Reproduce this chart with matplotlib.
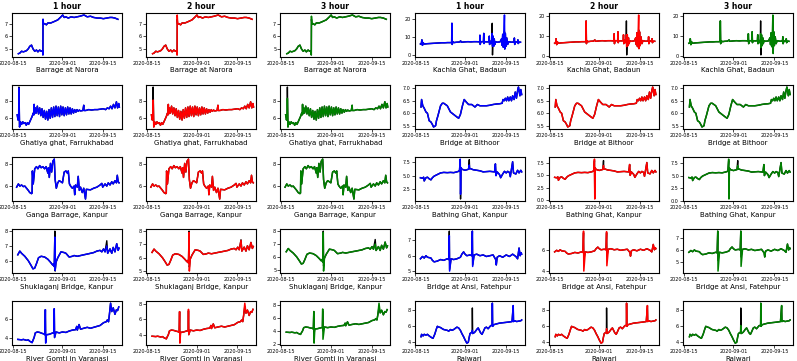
import matplotlib
matplotlib.use("Agg")
import matplotlib.dates as mdates
import matplotlib.pyplot as plt
import pandas as pd

START = pd.Timestamp("2020-08-15")
HORIZONS = ["1 hour", "2 hour", "3 hour"]
COLORS = ["blue", "red", "green"]

# --- observed water level (days after 2020-08-15) and per-horizon prediction differences
narora_day = [1.9, 2.4, 3.0, 3.6, 4.2, 4.7, 5.3, 5.8, 6.4, 6.9, 7.5, 8.1, 8.6, 9.2, 9.7, 10.2, 10.3, 10.35,
              10.5, 10.9, 11.5, 12.0, 13.0, 14.0, 15.4, 16.5, 17.1, 17.6, 18.2, 19.0, 20.0, 21.0, 22.0,
              23.0, 24.4, 25.5, 26.6, 27.7, 28.9, 30.0, 31.0, 32.2, 33.3, 34.0, 35.0, 36.0]
narora_obs = [4.6, 4.65, 4.8, 4.75, 4.8, 4.85, 5.0, 5.2, 5.3, 5.0, 4.8, 4.9, 4.75, 4.9, 4.8, 4.85, 4.5, 7.4,
              7.0, 7.05, 6.95, 7.1, 7.1, 7.2, 7.35, 7.6, 7.75, 7.55, 7.6, 7.5, 7.6, 7.55, 7.6,
              7.65, 7.75, 7.6, 7.65, 7.55, 7.5, 7.5, 7.45, 7.5, 7.55, 7.55, 7.5, 7.4]
narora_fix = [{}, {10.35: 7.75}, {10.35: 7.65}]

kachla_day = [1.7, 2.0, 2.2, 2.4, 2.6, 3.0, 4.0, 5.0, 6.0, 7.0, 8.0, 9.0, 10.0, 11.0, 12.0, 12.4, 12.5, 12.6,
              12.8, 13.2, 14.0, 15.0, 15.5, 15.7, 17.0, 18.0, 19.0, 20.0, 21.0, 22.0, 22.1, 22.2, 22.4,
              23.3, 23.4, 23.5, 23.7, 24.5, 25.2, 25.3, 25.4, 25.6, 25.9, 26.2, 26.3, 26.4, 26.6, 26.8,
              27.0, 27.2, 27.5, 28.0, 29.0, 29.5, 29.7, 29.9, 30.1, 30.3, 30.5, 30.6, 30.8, 31.0, 31.3,
              31.6, 32.0, 33.0, 33.8, 33.9, 34.0, 34.3, 35.0, 35.1, 35.2, 35.6, 36.0]
kachla_obs = [6.2, 6.4, 8.5, 5.5, 7.0, 6.2, 6.4, 6.5, 6.6, 6.7, 6.8, 6.9, 6.9, 7.0, 7.0, 7.1, 17.5, 6.0,
              7.5, 7.0, 7.2, 7.3, 7.9, 7.2, 7.4, 7.5, 7.4, 7.5, 7.5, 7.4, 11.0, 6.0, 7.5,
              7.5, 12.0, 6.5, 7.5, 7.4, 7.5, 10.5, 6.0, 7.8, 6.5, 8.0, 17.5, 0.3, 10.5, 5.0,
              9.0, 6.0, 7.5, 7.2, 7.4, 9.0, 5.5, 11.5, 4.5, 10.0, 13.0, 3.5, 12.0, 5.0, 9.5,
              6.0, 7.5, 7.2, 7.4, 9.5, 6.0, 7.3, 7.4, 8.5, 6.5, 7.3, 7.2]
kachla_fix = [{26.3: 12.0, 26.4: 5.0, 30.5: 22.0},
              {26.3: 10.5, 26.4: 4.5, 30.5: 20.5},
              {26.3: 11.0, 26.4: 4.0, 30.5: 20.5, 30.6: 1.0}]

ghatiya_day = [1.5, 1.8, 2.0, 2.1, 2.3, 2.6, 3.0, 3.4, 3.8, 4.2, 4.6, 5.0, 5.4, 5.8, 6.2, 6.6, 7.0, 7.2, 7.3,
               7.4, 7.7, 8.0, 8.4, 8.8, 9.2, 9.6, 10.0, 10.4, 10.8, 11.2, 11.6, 12.0, 12.4, 12.8, 13.2,
               13.6, 14.0, 14.4, 14.8, 15.2, 15.6, 16.0, 16.4, 16.8, 17.2, 17.6, 18.0, 18.4, 18.8,
               19.2, 19.6, 20.0, 20.4, 20.8, 21.2, 21.6, 22.0, 22.4, 22.8, 23.2, 24.0, 24.3, 24.4,
               25.0, 26.0, 27.0, 28.0, 29.0, 30.0, 31.0, 31.8, 32.4, 33.0, 33.5, 34.0, 34.5, 35.0,
               35.5, 35.9, 36.3, 36.5]
ghatiya_obs = [6.4, 5.8, 6.2, 9.6, 5.0, 5.6, 5.3, 5.6, 5.4, 5.5, 5.2, 5.5, 5.3, 5.6, 5.9, 6.2, 6.6, 6.4, 7.6,
               6.5, 7.2, 6.6, 7.4, 6.5, 7.2, 6.3, 7.1, 6.1, 6.9, 5.9, 6.8, 5.8, 7.0, 6.0, 7.2,
               6.1, 7.3, 6.2, 7.4, 6.3, 7.3, 6.2, 7.4, 6.4, 7.3, 6.3, 7.2, 6.4, 7.3,
               6.5, 7.2, 6.5, 7.1, 6.6, 7.0, 6.7, 7.0, 6.8, 6.95, 6.85, 6.9, 7.5, 6.9,
               6.9, 7.0, 6.95, 7.0, 7.0, 7.05, 7.1, 7.0, 7.2, 7.1, 7.4, 7.1, 7.6, 7.2,
               7.9, 7.2, 7.7, 7.3]
ghatiya_fix = [{2.1: 9.5}, {2.1: 8.1}, {2.1: 8.3}]

bithoor_day = [1.9, 2.1, 2.5, 3.0, 3.6, 4.1, 4.7, 5.3, 5.8, 6.2, 6.9, 7.2, 7.7, 8.6, 9.2, 9.7, 10.9, 12.0,
               13.1, 14.2, 14.8, 15.4, 16.1, 16.7, 17.4, 18.2, 19.3, 20.4, 21.2, 22.1, 23.0, 24.3,
               25.5, 26.6, 27.7, 28.8, 29.7, 30.0, 30.4, 30.8, 31.2, 31.6, 32.0, 32.5, 32.9, 33.3,
               33.8, 34.2, 34.6, 35.0, 35.3, 35.8, 36.1, 36.4]
bithoor_obs = [6.25, 6.55, 6.3, 6.2, 6.05, 6.0, 5.7, 5.65, 5.55, 5.45, 5.5, 5.7, 5.9, 6.3, 6.4, 6.4, 6.3, 6.05,
               5.95, 5.85, 5.8, 5.95, 6.3, 6.55, 6.45, 6.35, 6.35, 6.25, 6.35, 6.3, 6.3, 6.3,
               6.32, 6.35, 6.37, 6.38, 6.4, 6.55, 6.5, 6.6, 6.5, 6.65, 6.5, 6.65, 6.5, 6.7,
               6.55, 6.85, 6.6, 6.9, 7.05, 6.7, 6.95, 6.75]
bithoor_fix = [{}, {}, {}]

ganga_day = [1.3, 1.9, 2.4, 3.0, 3.6, 4.1, 4.7, 5.3, 5.8, 6.4, 6.6, 6.7, 7.0, 7.5, 8.1, 8.6, 9.2, 9.7, 10.3,
             10.9, 11.4, 12.0, 12.2, 12.5, 12.9, 13.3, 13.7, 14.2, 14.5, 14.9, 15.4, 15.9, 16.5, 17.0,
             17.6, 18.2, 18.7, 19.0, 19.4, 19.8, 20.4, 21.0, 21.2, 21.5, 22.1, 22.4, 22.8, 23.2,
             23.8, 24.3, 24.9, 25.2, 26.6, 27.7, 28.8, 29.9, 30.5, 30.8, 31.6, 32.2, 32.7, 33.3,
             33.9, 34.4, 35.0, 35.5, 35.8, 36.1, 36.4]
ganga_obs = [5.9, 6.2, 6.0, 6.1, 5.95, 6.0, 5.8, 5.6, 5.4, 5.3, 5.35, 7.4, 6.2, 7.6, 7.8, 7.6, 7.9, 7.7, 7.8,
             7.6, 7.8, 7.2, 7.7, 6.8, 8.1, 7.3, 8.3, 8.5, 6.6, 5.8, 6.3, 6.5, 6.4, 6.3,
             7.3, 7.4, 7.2, 7.4, 6.2, 6.0, 5.8, 6.0, 5.2, 6.1, 5.9, 6.9, 5.6, 5.9,
             5.4, 5.8, 4.8, 5.7, 5.65, 5.8, 5.9, 6.1, 6.25, 5.9, 6.2, 6.0, 6.3, 6.1,
             6.4, 6.2, 6.5, 6.3, 7.0, 6.4, 6.3]
ganga_fix = [{}, {}, {}]

bathing_day = [1.7, 2.4, 2.8, 3.0, 3.6, 4.1, 4.7, 5.3, 5.8, 6.4, 7.5, 8.6, 9.7, 10.9, 12.0, 13.1, 14.2, 14.8,
               15.1, 15.35, 15.45, 15.6, 15.9, 17.0, 18.2, 18.45, 18.55, 18.9, 19.8, 21.0, 22.1, 23.2,
               25.5, 27.1, 27.4, 27.6, 28.0, 28.8, 29.2, 29.9, 30.5, 31.1, 31.6, 32.2, 32.5, 33.3,
               33.6, 34.4, 35.0, 35.5, 36.1, 36.4]
bathing_obs = [4.6, 4.5, 4.7, 4.0, 4.6, 4.7, 4.4, 4.2, 4.6, 4.9, 5.2, 5.5, 5.6, 5.55, 5.6, 5.55, 5.7, 5.8,
               6.0, 8.0, 0.6, 6.5, 6.2, 6.0, 6.2, 8.0, 6.3, 6.3, 6.1, 6.0, 5.9, 5.7,
               5.8, 5.7, 7.2, 5.0, 5.7, 5.2, 4.6, 5.3, 5.8, 5.5, 5.8, 5.6, 4.8, 7.6,
               5.5, 5.3, 6.0, 5.5, 6.0, 5.7]
bathing_fix = [{15.35: 8.1, 15.45: 1.5, 18.45: 7.0},
               {15.35: 8.3, 15.45: 0.2, 18.45: 7.0},
               {15.35: 8.3, 15.45: 0.3, 18.45: 7.0}]

shuklaganj_day = [1.7, 2.4, 3.0, 4.1, 5.3, 6.2, 6.9, 7.5, 8.1, 8.8, 9.7, 10.9, 12.0, 12.9, 13.7, 14.0, 14.2,
                  14.4, 14.5, 14.8, 15.4, 16.5, 17.6, 18.2, 19.3, 20.4, 21.0, 22.1, 23.2, 24.3, 25.5,
                  26.6, 27.7, 28.8, 29.9, 30.5, 31.1, 31.6, 32.2, 32.5, 33.3, 33.9, 34.4, 35.0, 35.6,
                  36.1, 36.4]
shuklaganj_obs = [6.4, 6.65, 6.5, 6.3, 6.0, 5.7, 5.45, 5.5, 5.8, 6.2, 6.3, 6.25, 6.1, 5.9, 5.7, 5.8, 5.6,
                  8.0, 5.3, 5.9, 6.2, 6.6, 6.55, 6.5, 6.25, 6.3, 6.35, 6.3, 6.35, 6.4, 6.45,
                  6.5, 6.55, 6.65, 6.7, 6.6, 6.8, 6.6, 7.35, 6.5, 6.8, 6.5, 6.9, 6.6, 7.15,
                  6.7, 6.85]
shuklaganj_fix = [{14.4: 7.6, 14.5: 5.35, 32.2: 7.0},
                  {14.4: 7.9, 14.5: 5.0, 32.2: 7.3},
                  {14.4: 7.9, 14.5: 4.9, 32.2: 7.0}]

ansi_day = [1.7, 2.4, 3.0, 3.6, 4.1, 5.3, 5.8, 6.4, 7.5, 8.6, 9.7, 10.9, 11.4, 11.6, 11.7, 12.2, 13.1, 14.2,
            15.4, 15.9, 16.5, 17.0, 17.6, 18.7, 19.3, 19.5, 19.6, 20.1, 21.0, 22.1, 23.2, 24.3, 25.5,
            26.6, 27.5, 27.7, 28.0, 28.8, 29.9, 31.1, 32.2, 33.3, 34.4, 35.0, 35.5, 35.9, 36.2, 36.4]
ansi_obs = [5.8, 5.95, 5.85, 6.0, 5.9, 5.85, 5.7, 5.6, 5.65, 5.75, 5.7, 5.8, 5.75, 7.6, 5.1, 5.8, 5.75, 5.8,
            5.9, 6.1, 6.25, 6.1, 6.0, 6.05, 6.0, 7.6, 5.4, 6.05, 6.1, 6.0, 6.05, 5.95, 6.0,
            6.05, 5.75, 5.4, 5.9, 6.0, 5.9, 6.05, 5.95, 6.1, 5.95, 5.8, 6.5, 6.0, 6.2, 6.1]
ansi_fix = [{11.6: 7.3, 11.7: 5.0, 19.6: 5.3},
            {11.6: 7.75, 11.7: 4.0, 19.5: 7.7, 19.6: 4.5},
            {11.6: 7.6, 11.7: 4.2, 19.6: 4.6}]

gomti_day = [1.7, 3.0, 3.6, 4.7, 5.3, 5.8, 6.4, 6.6, 6.9, 7.3, 7.7, 8.4, 9.2, 10.0, 10.6, 11.0, 11.15, 11.25,
             11.5, 12.5, 13.7, 14.1, 14.2, 14.3, 14.8, 15.9, 17.0, 18.2, 19.3, 20.4, 21.5, 21.9, 22.1,
             22.7, 23.2, 24.3, 25.5, 26.6, 27.7, 28.8, 29.9, 31.1, 32.0, 32.4, 32.8, 33.1, 33.5, 33.9,
             34.4, 35.0, 35.5, 35.9, 36.3]
gomti_obs = [3.8, 3.75, 3.8, 3.7, 3.75, 3.6, 3.5, 3.45, 3.7, 4.0, 4.5, 4.6, 4.55, 4.45, 4.4, 4.3, 7.0, 3.6,
             4.3, 4.35, 4.5, 4.5, 7.1, 4.0, 4.6, 4.5, 4.6, 4.55, 4.7, 4.8, 4.85, 5.2, 4.8,
             5.4, 4.9, 5.0, 5.1, 5.0, 5.1, 5.2, 5.3, 5.6, 5.7, 5.9, 5.7, 6.5, 7.7, 6.8,
             7.2, 6.5, 7.0, 6.9, 7.3]
gomti_fix = [{11.25: 3.4},
             {11.25: 2.9, 14.2: 7.3, 33.5: 8.1},
             {11.25: 2.1, 14.2: 7.4, 14.3: 2.7, 33.5: 8.3}]

rajwari_day = [1.9, 2.1, 2.6, 3.0, 3.6, 4.1, 4.7, 5.5, 6.0, 6.6, 7.2, 7.5, 8.1, 8.6, 9.2, 9.7, 10.9, 11.4,
               12.0, 12.5, 13.1, 14.2, 14.8, 15.4, 15.9, 16.5, 17.0, 17.6, 18.1, 18.4, 18.7, 19.1,
               19.45, 19.5, 19.6, 20.1, 20.4, 21.2, 21.5, 22.3, 22.8, 23.2, 23.8, 24.3, 24.9, 25.8,
               26.3, 26.35, 26.45, 26.8, 27.7, 28.8, 29.9, 31.1, 32.2, 33.1, 33.5, 33.6, 34.0, 34.7,
               35.3, 36.1, 36.4]
rajwari_obs = [4.6, 4.9, 4.7, 4.9, 4.8, 4.9, 4.7, 4.5, 4.4, 4.9, 5.6, 5.9, 5.8, 5.75, 5.6, 5.5, 5.4, 5.3,
               5.5, 5.4, 5.5, 5.8, 5.7, 5.4, 5.0, 4.6, 4.2, 3.8, 3.9, 4.5, 5.0, 5.1,
               5.2, 8.2, 5.0, 5.1, 5.2, 5.6, 5.7, 5.1, 4.9, 5.2, 5.7, 5.8, 5.6, 6.0,
               6.0, 8.8, 5.9, 6.1, 6.2, 6.3, 6.35, 6.4, 6.45, 6.5, 8.5, 6.5, 6.6, 6.5,
               6.55, 6.6, 6.7]
rajwari_fix = [{19.5: 5.4}, {19.5: 5.6}, {19.5: 6.0}]

# rows of the grid: (left station, right station)
ROWS = [
    (("Barrage at Narora", narora_day, narora_obs, narora_fix),
     ("Kachla Ghat, Badaun", kachla_day, kachla_obs, kachla_fix)),
    (("Ghatiya ghat, Farrukhabad", ghatiya_day, ghatiya_obs, ghatiya_fix),
     ("Bridge at Bithoor", bithoor_day, bithoor_obs, bithoor_fix)),
    (("Ganga Barrage, Kanpur", ganga_day, ganga_obs, ganga_fix),
     ("Bathing Ghat, Kanpur", bathing_day, bathing_obs, bathing_fix)),
    (("Shuklaganj Bridge, Kanpur", shuklaganj_day, shuklaganj_obs, shuklaganj_fix),
     ("Bridge at Ansi, Fatehpur", ansi_day, ansi_obs, ansi_fix)),
    (("River Gomti in Varanasi", gomti_day, gomti_obs, gomti_fix),
     ("Rajwari", rajwari_day, rajwari_obs, rajwari_fix)),
]


def predicted(days, obs, fix):
    return [fix.get(d, v) for d, v in zip(days, obs)]


def main() -> None:
    fig, axes = plt.subplots(5, 6, figsize=(7.97, 3.61), dpi=100)
    fig.subplots_adjust(left=0.015, right=0.995, top=0.964, bottom=0.044, wspace=0.22, hspace=0.64)

    x_lo = START + pd.Timedelta(days=-0.3)
    x_hi = START + pd.Timedelta(days=37.4)

    for row, pair in enumerate(ROWS):
        for half, (name, days, obs, fix) in enumerate(pair):
            dates = START + pd.to_timedelta(days, unit="D")
            for h in range(3):
                ax = axes[row, half * 3 + h]
                ax.plot(dates, obs, color="black", lw=1.0)
                ax.plot(dates, predicted(days, obs, fix[h]), color=COLORS[h], lw=1.1)
                ax.set_xlim(x_lo, x_hi)
                ax.xaxis.set_major_locator(mdates.DayLocator(bymonthday=[1, 15]))
                ax.xaxis.set_major_formatter(mdates.DateFormatter("%Y-%m-%d"))
                ax.tick_params(labelsize=3.5, length=2, width=0.5, pad=1)
                ax.set_xlabel(name, fontsize=5, labelpad=1)
                for spine in ax.spines.values():
                    spine.set_linewidth(0.8)
                if row == 0:
                    ax.set_title(HORIZONS[h], fontsize=5.5, fontweight="bold", pad=3)

    fig.savefig("out.png", dpi=100)
    plt.close(fig)


if __name__ == "__main__":
    main()
